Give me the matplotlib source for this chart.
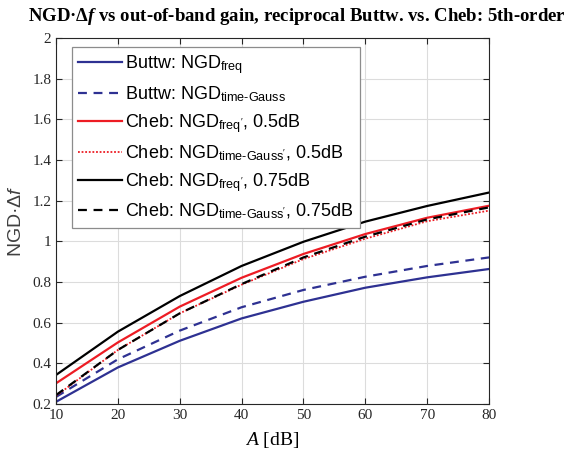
import matplotlib
matplotlib.use("Agg")
import matplotlib.pyplot as plt

plt.rcParams["mathtext.fontset"] = "custom"
plt.rcParams["mathtext.rm"] = "Liberation Sans"
plt.rcParams["mathtext.sf"] = "Liberation Sans"
plt.rcParams["mathtext.it"] = "Liberation Serif:italic"
plt.rcParams["mathtext.bfit"] = "Liberation Serif:bold:italic"
plt.rcParams["mathtext.tt"] = "Liberation Sans:italic"

# out-of-band gain A [dB]
A = [10, 20, 30, 40, 50, 60, 70, 80]

butt_freq = [0.211, 0.380, 0.511, 0.621, 0.703, 0.772, 0.823, 0.864]
butt_time = [0.235, 0.420, 0.561, 0.676, 0.761, 0.826, 0.879, 0.921]
cheb05_freq = [0.302, 0.503, 0.679, 0.821, 0.938, 1.036, 1.116, 1.175]
cheb05_time = [0.240, 0.466, 0.646, 0.787, 0.913, 1.013, 1.099, 1.151]
cheb075_freq = [0.343, 0.556, 0.731, 0.879, 0.998, 1.097, 1.174, 1.240]
cheb075_time = [0.244, 0.466, 0.646, 0.790, 0.921, 1.023, 1.108, 1.167]

yticks = [0.2, 0.4, 0.6, 0.8, 1.0, 1.2, 1.4, 1.6, 1.8, 2.0]
ytick_labels = ["0.2", "0.4", "0.6", "0.8", "1", "1.2", "1.4", "1.6", "1.8", "2"]

blue = "#2e3192"
red = "#ed1c24"

fig = plt.figure(figsize=(5.66, 4.55), dpi=100)
ax = fig.add_axes([0.099, 0.112, 0.765, 0.8045])

ax.plot(A, butt_freq, color=blue, lw=1.6, label=r"Buttw: NGD$_{\mathrm{freq}}$")
ax.plot(A, butt_time, color=blue, lw=1.6, ls=(0, (4, 3)),
        label=r"Buttw: NGD$_{\mathrm{time\text{-}Gauss}}$")
ax.plot(A, cheb05_freq, color=red, lw=1.6, label=r"Cheb: NGD$_{\mathrm{freq'}}$, 0.5dB")
ax.plot(A, cheb05_time, color=red, lw=1.3, ls=(0, (1, 1)),
        label=r"Cheb: NGD$_{\mathrm{time\text{-}Gauss'}}$, 0.5dB")
ax.plot(A, cheb075_freq, color="black", lw=1.6, label=r"Cheb: NGD$_{\mathrm{freq'}}$, 0.75dB")
ax.plot(A, cheb075_time, color="black", lw=1.6, ls=(0, (4, 3)),
        label=r"Cheb: NGD$_{\mathrm{time\text{-}Gauss'}}$, 0.75dB")

ax.set_xlim(10, 80)
ax.set_ylim(0.2, 2)
ax.set_xticks(A)
ax.set_yticks(yticks)
ax.set_yticklabels(ytick_labels)
ax.grid(True, color="#dcdcdc", lw=0.8)
ax.set_axisbelow(True)
ax.tick_params(direction="in", top=True, right=True, length=4, labelsize=11,
               colors="#262626")
for lbl in ax.get_xticklabels() + ax.get_yticklabels():
    lbl.set_fontfamily("Liberation Serif")
for sp in ax.spines.values():
    sp.set_color("#262626")
    sp.set_linewidth(0.8)

ax.set_xlabel(r"$\it{A}$ [dB]", family="Liberation Serif", fontsize=14, labelpad=6)
ax.set_ylabel(r"NGD·Δ$\mathtt{f}$", family="Liberation Sans", fontsize=14,
              color="#404040", labelpad=5)
fig.suptitle(r"NGD·Δ$\mathbfit{f}$ vs out-of-band gain, reciprocal Buttw. vs. Cheb: 5th-order",
             family="Liberation Serif", fontweight="bold", fontsize=13.5, x=0.525, y=0.987)

leg = ax.legend(loc="upper left", bbox_to_anchor=(0.037, 0.975), borderaxespad=0,
                prop={"family": "Liberation Sans", "size": 13},
                handlelength=2.4, handletextpad=0.2, labelspacing=0.45, borderpad=0.35,
                fancybox=False, framealpha=1)
leg.get_frame().set_edgecolor("#8c8c8c")
leg.get_frame().set_linewidth(0.9)

fig.savefig("out.png", dpi=100)
